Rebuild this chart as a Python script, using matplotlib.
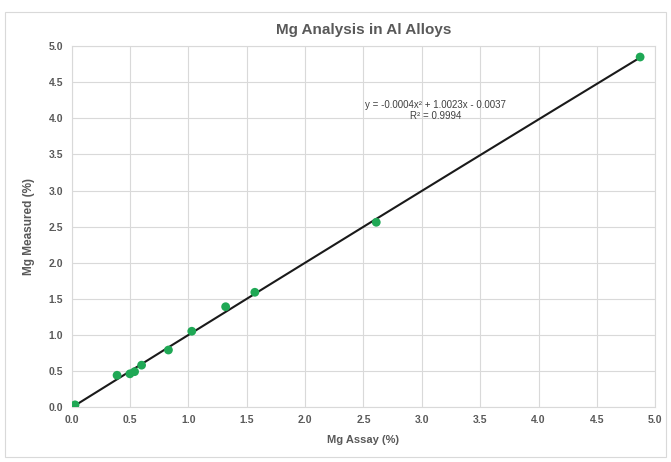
from matplotlib import pyplot as plt
from matplotlib.patches import Rectangle
import numpy as np

plt.rcParams['font.family'] = ['Liberation Sans', 'DejaVu Sans']

# 数据：Mg 标定值 vs 测量值
mg_assay = [0.01, 0.02, 0.03, 0.39, 0.50, 0.54, 0.60, 0.83, 1.03, 1.32, 1.57, 2.61, 4.87]
mg_measured = [0.00, 0.01, 0.03, 0.44, 0.46, 0.49, 0.58, 0.79, 1.05, 1.39, 1.59, 2.56, 4.85]
ticks = [0.0, 0.5, 1.0, 1.5, 2.0, 2.5, 3.0, 3.5, 4.0, 4.5, 5.0]
eq_text = 'y = -0.0004x² + 1.0023x - 0.0037'
r2_text = 'R² = 0.9994'

grey = '#595959'

fig = plt.figure(figsize=(6.71, 4.62), dpi=100)
ax = fig.add_axes([0.1066, 0.119, 0.870, 0.781])

# 二次拟合趋势线
coef = np.polyfit(mg_assay, mg_measured, 2)
xs = np.linspace(min(mg_assay), max(mg_assay), 200)
ax.plot(xs, np.polyval(coef, xs), color='#1a1a1a', lw=1.5, zorder=2)
ax.scatter(mg_assay, mg_measured, color='#1fa855', s=40, zorder=3, edgecolors='none')

ax.set_xlim(0, 5)
ax.set_ylim(0, 5)
ax.set_xticks(ticks)
ax.set_yticks(ticks)
ax.set_xticklabels([f'{t:.1f}' for t in ticks])
ax.set_yticklabels([f'{t:.1f}' for t in ticks])
ax.tick_params(length=0, labelsize=7.5, labelcolor=grey, pad=6)
for lab in ax.get_xticklabels() + ax.get_yticklabels():
    lab.set_fontweight('bold')
ax.grid(True, color='#d9d9d9', lw=0.8)
ax.set_axisbelow(True)
for s in ax.spines.values():
    s.set_color('#d9d9d9')
    s.set_linewidth(0.8)

ax.set_xlabel('Mg Assay (%)', fontsize=8, fontweight='bold', color=grey, labelpad=7)
ax.set_ylabel('Mg Measured (%)', fontsize=8.5, fontweight='bold', color=grey, labelpad=10)
ax.set_title('Mg Analysis in Al Alloys', fontsize=11, fontweight='bold', color=grey, pad=9)

ax.text(3.12, 4.18, eq_text, ha='center', va='center', fontsize=7, color='#404040')
ax.text(3.12, 4.03, r2_text, ha='center', va='center', fontsize=7, color='#404040')

# 图表外框
fig.patches.append(Rectangle((0.008, 0.01), 0.985, 0.963, transform=fig.transFigure,
                             fill=False, edgecolor='#d9d9d9', lw=0.8))

fig.savefig('out.png', dpi=100)
